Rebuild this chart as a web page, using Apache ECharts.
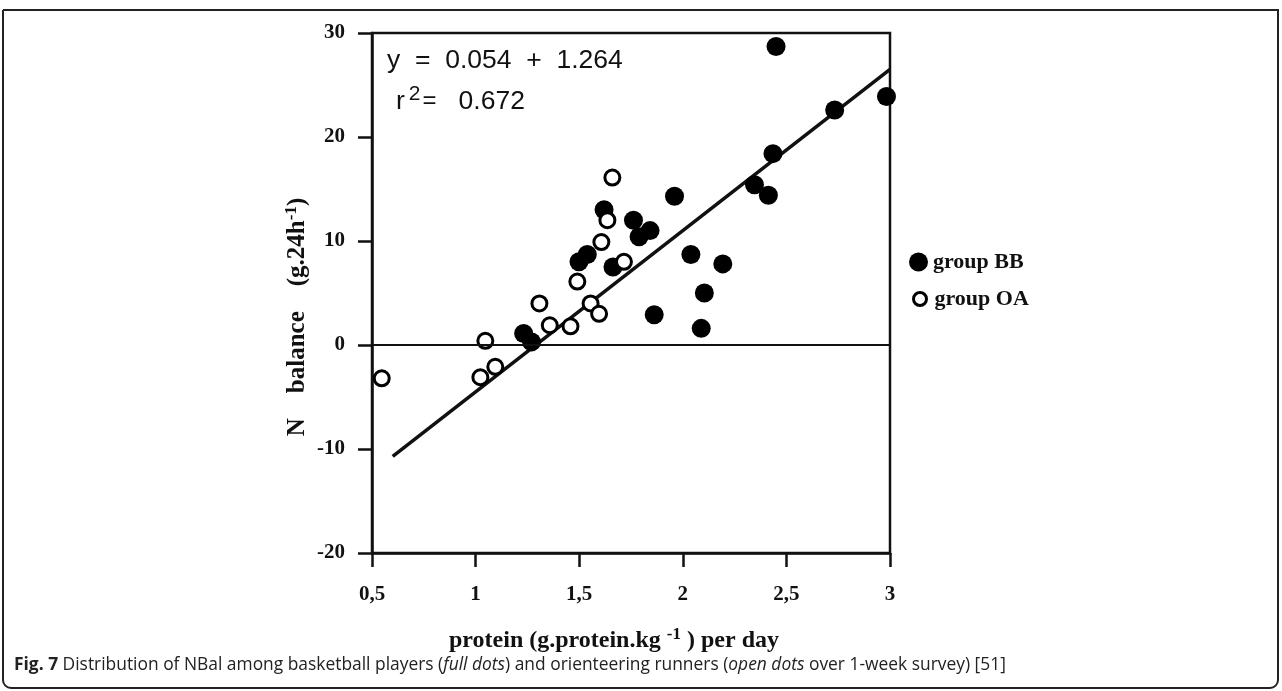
<!DOCTYPE html>
<html>
<head>
<meta charset="utf-8">
<script src="https://cdn.jsdelivr.net/npm/echarts@6/dist/echarts.min.js"></script>
<style>
  html, body { margin: 0; padding: 0; background: #fff; }
  #chart { width: 1282px; height: 691px; }
</style>
</head>
<body>
<div id="chart"></div>
<script>
// group BB (basketball players, full dots): [protein, N balance]
const groupBB = [
  [1.232, 1.1], [1.27, 0.3], [1.499, 8.0], [1.539, 8.7], [1.62, 13.0],
  [1.663, 7.5], [1.762, 12.0], [1.789, 10.4], [1.842, 11.0], [1.862, 2.9],
  [1.96, 14.3], [2.039, 8.7], [2.089, 1.6], [2.104, 5.0], [2.193, 7.8],
  [2.346, 15.4], [2.413, 14.4], [2.435, 18.4], [2.45, 28.7], [2.733, 22.6],
  [2.983, 23.9]
];
// group OA (orienteering runners, open dots)
const groupOA = [
  [0.547, -3.2], [1.023, -3.1], [1.047, 0.4], [1.095, -2.1], [1.308, 4.0],
  [1.358, 1.9], [1.458, 1.8], [1.491, 6.1], [1.555, 4.0], [1.596, 3.0],
  [1.607, 9.9], [1.636, 12.0], [1.66, 16.1], [1.716, 8.0]
];
// regression line end points
const fitLine = [[0.6, -10.7], [3.0, 26.5]];

const xTicks = { min: 0.5, max: 3, step: 0.5 };
const yTicks = { min: -20, max: 30, step: 10 };

const serif = 'Liberation Serif';
const sans = 'Liberation Sans';
const ink = '#111';
const chart = echarts.init(document.getElementById('chart'));

const legendText = { fontFamily: serif, fontSize: 22, fontWeight: 'bold', color: ink, lineHeight: 22 };

chart.setOption({
  animation: false,
  backgroundColor: '#fff',
  grid: {
    left: 372, right: 392, top: 33, bottom: 138,
    show: true, borderColor: ink, borderWidth: 2.5
  },
  legend: [
    {
      orient: 'vertical', left: 904, top: 246,
      itemWidth: 19, itemHeight: 19,
      textStyle: legendText,
      data: [{ name: 'group BB', icon: 'circle' }]
    },
    {
      orient: 'vertical', left: 907, top: 283,
      itemWidth: 13, itemHeight: 13, itemGap: 0,
      textStyle: Object.assign({}, legendText, { padding: [0, 0, 0, 3] }),
      data: [{
        name: 'group OA', icon: 'circle',
        itemStyle: { color: '#fff', borderColor: '#000', borderWidth: 3 }
      }]
    }
  ],
  xAxis: {
    type: 'value',
    min: xTicks.min, max: xTicks.max, interval: xTicks.step,
    name: 'protein (g.protein.kg {sup|-1} ) per day',
    nameLocation: 'middle', nameGap: 73,
    nameTextStyle: {
      fontFamily: serif, fontSize: 24, fontWeight: 'bold', color: ink,
      padding: [0, 34, 0, 0],
      rich: { sup: { fontFamily: serif, fontSize: 17, fontWeight: 'bold', color: ink, padding: [0, 0, 12, 0] } }
    },
    axisLine: { show: true, onZero: false, lineStyle: { color: ink, width: 2.5 } },
    axisTick: { show: true, inside: false, length: 14, lineStyle: { color: ink, width: 2.5 } },
    axisLabel: {
      margin: 31, color: ink, fontFamily: serif, fontSize: 21, fontWeight: 'bold',
      formatter: v => String(v).replace('.', ',')
    },
    splitLine: { show: false }
  },
  yAxis: {
    type: 'value',
    min: yTicks.min, max: yTicks.max, interval: yTicks.step,
    name: 'N    balance    (g.24h{sup|-1})',
    nameLocation: 'middle', nameGap: 60, nameRotate: 90,
    nameTextStyle: {
      fontFamily: serif, fontSize: 25, fontWeight: 'bold', color: ink,
      padding: [0, 48, 0, 0],
      rich: { sup: { fontFamily: serif, fontSize: 17, fontWeight: 'bold', color: ink, padding: [0, 0, 12, 0] } }
    },
    axisLine: { show: true, onZero: false, lineStyle: { color: ink, width: 2.5 } },
    axisTick: { show: true, inside: false, length: 14, lineStyle: { color: ink, width: 2.5 } },
    axisLabel: { margin: 27, color: ink, fontFamily: serif, fontSize: 21, fontWeight: 'bold' },
    splitLine: { show: false }
  },
  series: [
    {
      name: 'fit',
      type: 'line',
      data: fitLine,
      symbol: 'none',
      lineStyle: { color: ink, width: 3.5 },
      markLine: {
        silent: true,
        symbol: 'none',
        label: { show: false },
        lineStyle: { color: ink, width: 2, type: 'solid' },
        data: [{ yAxis: 0 }]
      },
      z: 2
    },
    {
      name: 'group BB',
      type: 'scatter',
      data: groupBB,
      symbol: 'circle',
      symbolSize: 19,
      itemStyle: { color: '#000', opacity: 1 },
      z: 3
    },
    {
      name: 'group OA',
      type: 'scatter',
      data: groupOA,
      symbol: 'circle',
      symbolSize: 15,
      itemStyle: { color: '#fff', borderColor: '#000', borderWidth: 3, opacity: 1 },
      z: 4
    }
  ],
  graphic: [
    {
      type: 'rect',
      shape: { x: 3, y: 10, width: 1275, height: 678, r: [0, 0, 8, 8] },
      style: { fill: 'none', stroke: '#222', lineWidth: 2 },
      silent: true
    },
    {
      type: 'text', left: 387, top: 47,
      style: { text: 'y  =  0.054  +  1.264', fontFamily: sans, fontSize: 26.5, fill: ink }
    },
    {
      type: 'text', left: 396, top: 84,
      style: {
        text: 'r{sup|2}{eq|=}   0.672',
        fontFamily: sans, fontSize: 26.5, fill: ink,
        rich: {
          sup: { fontFamily: sans, fontSize: 21, fill: ink, padding: [0, 2, 14, 4] },
          eq: { fontFamily: sans, fontSize: 24, fill: ink }
        }
      }
    },
    {
      type: 'text', left: 14, top: 657,
      style: {
        text: '{b|Fig. 7} Distribution of NBal among basketball players ({i|full dots}) and orienteering runners ({i|open dots} over 1-week survey) [51]',
        fontFamily: 'Open Sans', fontSize: 17.4, fill: '#222',
        rich: {
          b: { fontFamily: 'Open Sans', fontSize: 17.4, fontWeight: 'bold', fill: '#222' },
          i: { fontFamily: 'Open Sans', fontSize: 17.4, fontStyle: 'italic', fill: '#222' }
        }
      }
    }
  ]
});
</script>
</body>
</html>
